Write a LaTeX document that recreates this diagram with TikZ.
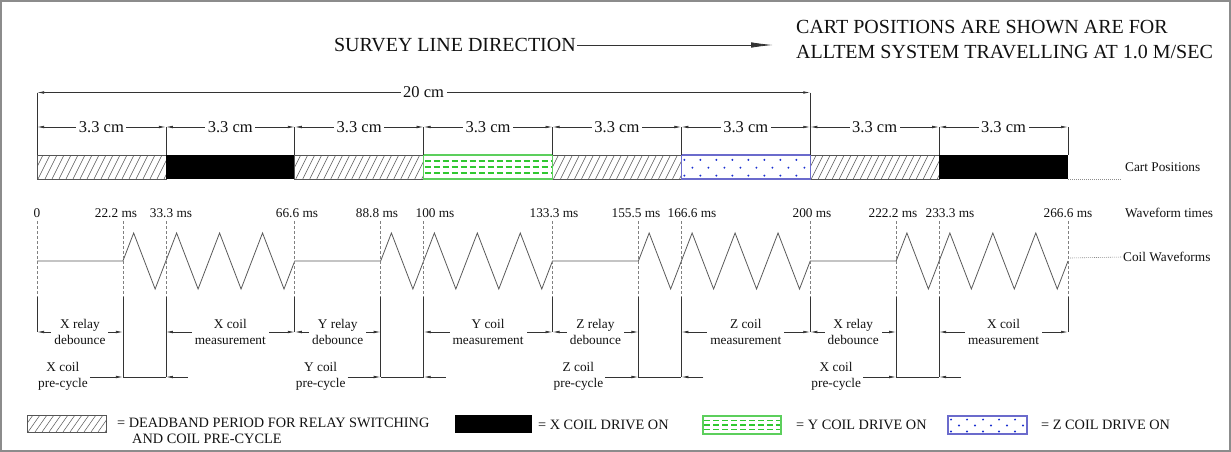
\documentclass[tikz,border=0pt]{standalone}
\usepackage{fontspec}
\setmainfont{Liberation Serif}
\usetikzlibrary{arrows.meta,calc}
\definecolor{ink}{HTML}{111111}
\definecolor{lin}{HTML}{333333}
\definecolor{hatchc}{HTML}{555555}
\definecolor{greenc}{HTML}{30C830}
\definecolor{greenb}{HTML}{5CCF5C}
\definecolor{bluec}{HTML}{1A2FD0}
\definecolor{blueb}{HTML}{6B6BCC}
\definecolor{framec}{HTML}{8C8C8C}

\tikzset{
 hatchline/.style={draw=hatchc, line width=0.5pt},
 barframe/.style={draw=hatchc, line width=0.6pt},
 greendash/.style={draw=greenc, line width=1.2pt, dash pattern=on 6pt off 3pt},
 greenframe/.style={draw=greenb, line width=1.1pt},
 blueframe/.style={draw=blueb, line width=1.2pt},
 dimline/.style={draw=lin, line width=0.7pt},
 dimarr/.style={dimline, {Latex[length=7pt,width=2.6pt]}-{Latex[length=7pt,width=2.6pt]}},
 onearr/.style={dimline, -{Latex[length=7pt,width=2.6pt]}},
 extline/.style={draw=lin, line width=0.7pt},
 guide/.style={draw=black!50, line width=0.6pt, dash pattern=on 3pt off 2pt},
 wave/.style={draw=black!65, line width=0.8pt},
 leader/.style={draw=black!45, line width=0.6pt, dash pattern=on 1pt off 1pt},
 hdr/.style={font=\fontsize{20}{25}\selectfont, text=ink, inner sep=1pt},
 dimlbl/.style={font=\fontsize{16.5}{20}\selectfont, text=ink, fill=white, inner xsep=2.5pt, inner ysep=1pt},
 small/.style={font=\fontsize{13.3}{16}\selectfont, text=ink, inner sep=1pt},
 cap2/.style={small, align=center, fill=white, inner xsep=3pt, inner ysep=0pt},
 leg/.style={font=\fontsize{14.3}{15}\selectfont, text=ink, inner sep=0pt},
}

\newcommand{\hatchfill}[4]{%
  \begin{scope}
    \clip (#1,#2) rectangle (#3,#4);
    \foreach \k in {0,...,24}{%
      \pgfmathsetmacro{\hx}{#1-20+7*\k}
      \draw[hatchline] (\hx,#4) -- ++(12,#2-#4);
    }
  \end{scope}
  \draw[barframe] (#1,#2) rectangle (#3,#4);
}
\newcommand{\greenfill}[4]{%
  \pgfmathsetmacro{\gh}{#4-#2}
  \foreach \f in {0.25,0.5,0.75}{%
    \pgfmathsetmacro{\gy}{#2+\f*\gh}
    \draw[greendash] (#1+1,\gy) -- (#3,\gy);
  }
  \draw[greenframe] (#1,#2) rectangle (#3,#4);
}
\newcommand{\bluefill}[4]{%
  \pgfmathsetmacro{\bh}{#4-#2}
  \begin{scope}
    \clip (#1,#2) rectangle (#3,#4);
    \foreach \f/\off in {0.2/3, 0.53/11, 0.86/3}{%
      \pgfmathsetmacro{\by}{#2+\f*\bh}
      \foreach \k in {0,...,8}{%
        \pgfmathsetmacro{\bx}{#1+\off+16*\k}
        \fill[bluec] (\bx,\by) circle (1.1pt);
      }
    }
  \end{scope}
  \draw[blueframe] (#1,#2) rectangle (#3,#4);
}

\begin{document}
\begin{tikzpicture}[x=1pt,y=-1pt]
\useasboundingbox (0,0) rectangle (1231,452);
\draw[draw=framec, line width=1.5pt] (1.2,1.2) rectangle (1229.8,450.8);

% header
\node[hdr, anchor=east] (survey) at (577,45) {SURVEY LINE DIRECTION};
\coordinate (surveytip) at (773,45);
\draw[line width=0.8pt, draw=lin, -{Latex[length=22pt,width=5.5pt]}] (survey.east) -- (surveytip);
\node[hdr, anchor=west, align=left] (note) at (795,39.5) {CART POSITIONS ARE SHOWN ARE FOR\\ALLTEM SYSTEM TRAVELLING AT 1.0 M/SEC};

% bar coordinates
\foreach \i in {0,...,8}{
  \coordinate (bt\i) at ({37+\i*128.875},155);
  \coordinate (bb\i) at ({37+\i*128.875},179);
  \coordinate (d\i) at ({37+\i*128.875},127);
}
\coordinate (c20l) at (37,92.5);
\coordinate (c20r) at (810.25,92.5);

% cart bar
\hatchfill{37}{155}{165.875}{179}
\fill[black] (165.875,155) rectangle (294.75,179);
\hatchfill{294.75}{155}{423.625}{179}
\hatchfill{552.5}{155}{681.375}{179}
\hatchfill{810.25}{155}{939.125}{179}
\greenfill{423.625}{155}{552.5}{179}
\bluefill{681.375}{155}{810.25}{179}
\fill[black] (939.125,155) rectangle (1068,179);

% extension lines above bar
\draw[extline] (c20l) -- (bt0);
\draw[extline] (c20r) -- (bt6);
\foreach \i in {1,2,3,4,5,7,8} \draw[extline] (d\i) -- (bt\i);

% dimensions
\draw[dimarr] (c20l) -- (c20r) node[midway, dimlbl] (l20) {20 cm};
\foreach \i [evaluate=\i as \j using int(\i+1)] in {0,...,7}
  \draw[dimarr] (d\i) -- (d\j) node[midway, dimlbl] (l33-\i) {3.3 cm};

% cart positions label
\node[small, anchor=west] (cartlbl) at (1124,167) {Cart Positions};
\coordinate (cartlead) at (1122,179);
\draw[leader] (bb8) -- (cartlead);

% waveform times
\foreach \n/\x/\t in {0/37/0, 1/116/22.2 ms, 2/171/33.3 ms, 3/297/66.6 ms, 4/377/88.8 ms, 5/435/100 ms, 6/554/133.3 ms, 7/636/155.5 ms, 8/692/166.6 ms, 9/812/200 ms, 10/893/222.2 ms, 11/950/233.3 ms, 12/1068/266.6 ms}
  \node[small] (t\n) at (\x,213) {\t};
\node[small, anchor=west] (wftimes) at (1124,213) {Waveform times};
\node[small, anchor=west] (coilwf) at (1122,257) {Coil Waveforms};

% waveform
\draw[wave] (37,261) \foreach \a in {122.917,380.667,638.417,896.167}{ -- (\a,261) \foreach \k in {0,1,2,3}{ -- ({\a+\k*42.9583+10.7396},233) -- ({\a+\k*42.9583+32.2188},289) -- ({\a+(\k+1)*42.9583},261) } };
\coordinate (wfend) at (1070,258);
\draw[leader] (wfend) -- (coilwf.west);

% guide / extension lines below
\foreach \n/\x/\lv in {0/37/332, 1/122.917/377, 2/165.875/377, 3/294.75/332, 4/380.667/377, 5/423.625/377, 6/552.5/332, 7/638.417/377, 8/681.375/377, 9/810.25/332, 10/896.167/377, 11/939.125/377, 12/1068/332}{
  \coordinate (g\n) at (\x,221);
  \coordinate (h\n) at (\x,297);
  \coordinate (e\n) at (\x,332);
  \coordinate (p\n) at (\x,\lv);
  \draw[guide] (g\n) -- (h\n);
  \draw[extline] (h\n) -- (p\n);
}

% relay debounce and measurement dimensions
\foreach \a/\b/\txt in {0/1/X relay\\debounce, 2/3/X coil\\measurement, 3/4/Y relay\\debounce, 5/6/Y coil\\measurement, 6/7/Z relay\\debounce, 8/9/Z coil\\measurement, 9/10/X relay\\debounce, 11/12/X coil\\measurement}
  \draw[dimarr] (e\a) -- (e\b) node[midway, cap2] (dl\a) {\txt};

% pre-cycle dimensions
\foreach \a/\b/\txt in {1/2/X coil\\pre-cycle, 4/5/Y coil\\pre-cycle, 7/8/Z coil\\pre-cycle, 10/11/X coil\\pre-cycle}{
  \coordinate (pl\a) at ($(p\a)+(-33,0)$);
  \coordinate (pr\b) at ($(p\b)+(22,0)$);
  \draw[onearr] (pl\a) -- (p\a);
  \draw[dimline] (p\a) -- (p\b);
  \draw[onearr] (pr\b) -- (p\b);
  \node[small, align=center] (pc\a) at ($(p\a)+(-60,-0.5)$) {\txt};
}

% legend
\hatchfill{27}{415}{106}{432}
\node[leg, anchor=west] (leg1a) at (117,423) {= DEADBAND PERIOD FOR RELAY SWITCHING};
\node[leg, anchor=west] (leg1b) at (132,438.5) {AND COIL PRE-CYCLE};
\fill[black] (455,415) rectangle (532,433);
\node[leg, anchor=west] (leg2) at (538,424.5) {= X COIL DRIVE ON};
\greenfill{703}{416}{781}{434}
\node[leg, anchor=west] (leg3) at (796,424.5) {= Y COIL DRIVE ON};
\bluefill{948}{416}{1027}{434}
\node[leg, anchor=west] (leg4) at (1041,424.5) {= Z COIL DRIVE ON};
\end{tikzpicture}
\end{document}
